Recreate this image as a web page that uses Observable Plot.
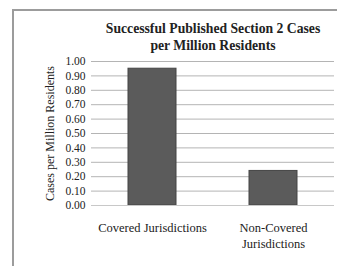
<!DOCTYPE html>
<html>
<head>
<meta charset="utf-8">
<script src="https://cdn.jsdelivr.net/npm/d3@7"></script>
<script src="https://cdn.jsdelivr.net/npm/@observablehq/plot@0.6"></script>
<style>
  html, body { margin: 0; padding: 0; background: #fff; }
  #wrap { position: relative; width: 337px; height: 266px; overflow: hidden; background: #fff; }
  #frame { position: absolute; left: 12px; top: 9px; width: 400px; height: 400px; border: 2px solid #9c9c9c; box-sizing: border-box; }
  #title { position: absolute; left: 83px; width: 260px; top: 20px; text-align: center;
           font-family: "Liberation Serif", serif; font-weight: bold; font-size: 13.7px; line-height: 17px; color: #222; }
  #chart { position: absolute; left: 0; top: 0; }
</style>
</head>
<body>
<div id="wrap">
  <div id="frame"></div>
  <div id="chart"></div>
  <div id="title">Successful Published Section 2 Cases<br>per Million Residents</div>
</div>
<script>
const categories = ["Covered Jurisdictions", "Non-Covered Jurisdictions"];
const categoryLabels = ["Covered Jurisdictions", "Non-Covered\nJurisdictions"];
const values = [0.95, 0.24];
const yTicks = [0, 0.1, 0.2, 0.3, 0.4, 0.5, 0.6, 0.7, 0.8, 0.9, 1.0];
const yLabel = "Cases per Million Residents";

const data = categories.map((c, i) => ({category: c, value: values[i]}));
const labelMap = new Map(categories.map((c, i) => [c, categoryLabels[i]]));

const chart = Plot.plot({
  width: 337,
  height: 266,
  marginLeft: 91,
  marginRight: 3,
  marginTop: 61,
  marginBottom: 61,
  style: {fontFamily: "Liberation Serif, serif", fontSize: "11px", color: "#222", background: "transparent"},
  x: {domain: categories, paddingInner: 0.6, paddingOuter: 0.3},
  y: {domain: [0, 1]},
  marks: [
    Plot.ruleY(yTicks, {stroke: "#b4b4b4", strokeWidth: 1}),
    Plot.barY(data, {x: "category", y: "value", fill: "#5b5b5b", stroke: "#454545", strokeWidth: 1}),
    Plot.ruleY([0], {stroke: "#c8c8c8"}),
    Plot.axisY({ticks: yTicks, tickFormat: d3.format(".2f"), tickSize: 0, tickPadding: 6,
                fontSize: 11.5, label: null}),
    Plot.axisY({ticks: [], label: yLabel, labelAnchor: "center", labelArrow: "none", labelOffset: 46, fontSize: 12}),
    Plot.axisX({tickSize: 0, tickPadding: 15, tickFormat: d => labelMap.get(d), label: null,
                fontSize: 12.5, lineHeight: 1.3})
  ]
});
document.getElementById("chart").appendChild(chart);
</script>
</body>
</html>
